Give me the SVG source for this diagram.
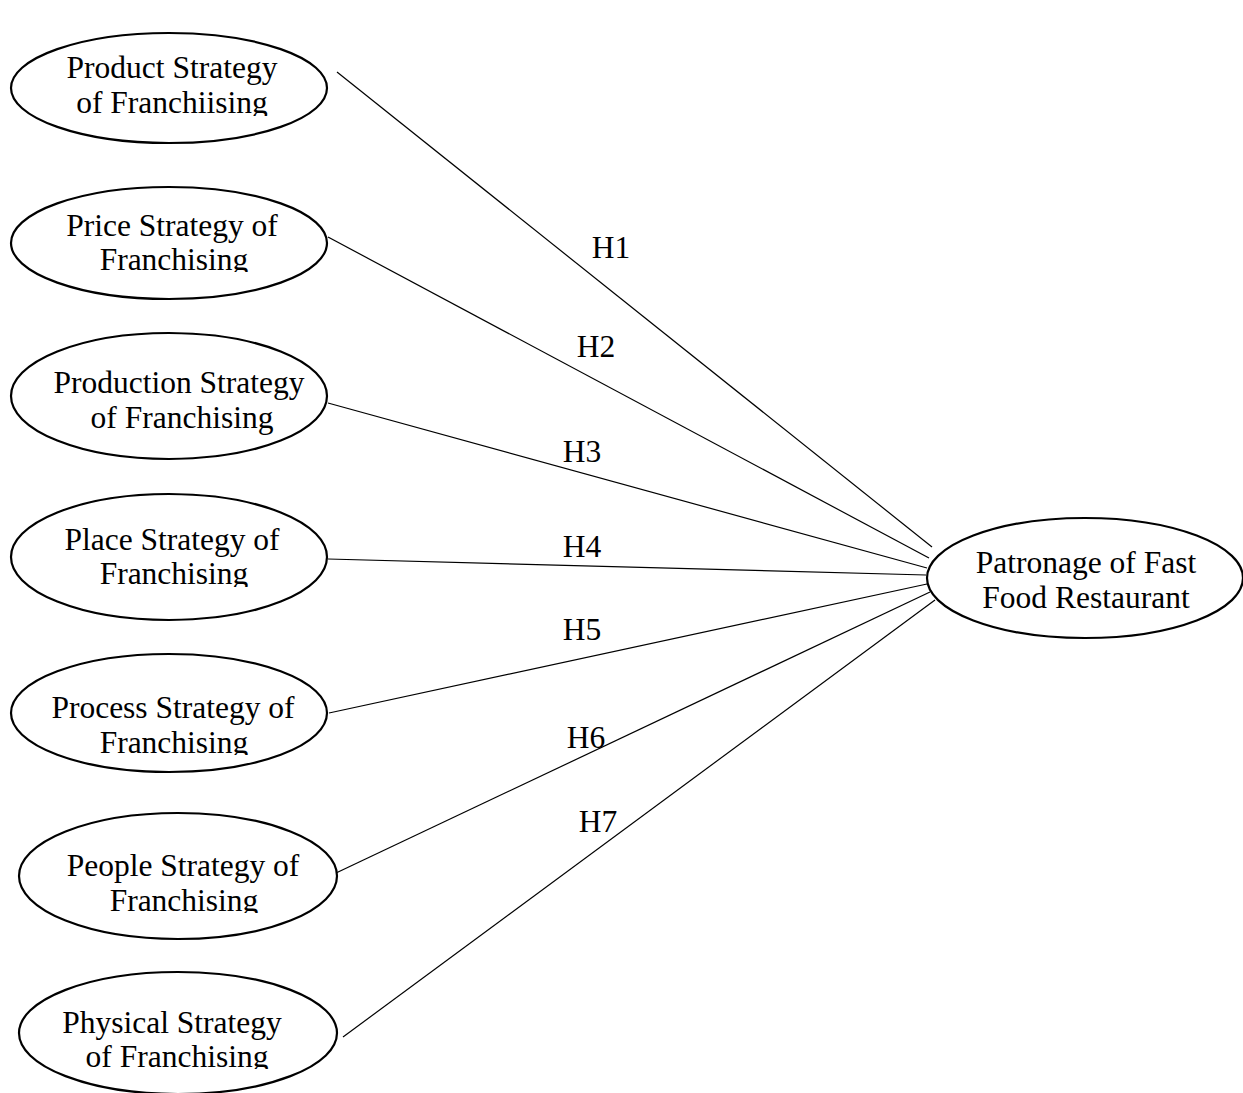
<svg xmlns="http://www.w3.org/2000/svg" width="1243" height="1093" viewBox="0 0 1243 1093">
<style>
.node ellipse{fill:#fff;stroke:#000;stroke-width:2.2}
text{font-family:"Liberation Serif","Times New Roman",serif;font-size:31.5px;fill:#000;text-anchor:middle}
.edges line{stroke:#000;stroke-width:1.2}
</style>
<defs>
<clipPath id="c1"><rect x="0" y="0" width="400" height="116"/></clipPath>
<clipPath id="c2"><rect x="0" y="150" width="400" height="122"/></clipPath>
<clipPath id="c4"><rect x="0" y="480" width="400" height="107"/></clipPath>
<clipPath id="c5"><rect x="0" y="640" width="400" height="115"/></clipPath>
<clipPath id="c6"><rect x="0" y="800" width="400" height="113"/></clipPath>
<clipPath id="c7"><rect x="0" y="960" width="400" height="109"/></clipPath>
</defs>
<rect width="1243" height="1093" fill="#fff"/>
<g class="edges">
<line x1="337" y1="72" x2="932" y2="547"/>
<line x1="328" y1="237" x2="929" y2="558"/>
<line x1="328" y1="403" x2="927" y2="568"/>
<line x1="328" y1="559" x2="926" y2="575"/>
<line x1="329" y1="713" x2="927" y2="584"/>
<line x1="336" y1="873" x2="930" y2="592"/>
<line x1="343" y1="1037" x2="935" y2="600"/>
</g>
<g id="n1" class="node"><ellipse cx="169" cy="88" rx="158" ry="55"/>
<g clip-path="url(#c1)"><text x="172" y="78">Product Strategy</text><text x="172" y="113">of Franchiising</text></g></g>
<g id="n2" class="node"><ellipse cx="169" cy="243" rx="158" ry="56"/>
<g clip-path="url(#c2)"><text x="172" y="236">Price Strategy of</text><text x="174" y="270">Franchising</text></g></g>
<g id="n3" class="node"><ellipse cx="169" cy="396" rx="158" ry="63"/>
<text x="179" y="393">Production Strategy</text><text x="182" y="428">of Franchising</text></g>
<g id="n4" class="node"><ellipse cx="169" cy="557" rx="158" ry="63"/>
<g clip-path="url(#c4)"><text x="172" y="550">Place Strategy of</text><text x="174" y="584">Franchising</text></g></g>
<g id="n5" class="node"><ellipse cx="169" cy="713" rx="158" ry="59"/>
<g clip-path="url(#c5)"><text x="173" y="718">Process Strategy of</text><text x="174" y="753">Franchising</text></g></g>
<g id="n6" class="node"><ellipse cx="178" cy="876" rx="159" ry="63"/>
<g clip-path="url(#c6)"><text x="183" y="876">People Strategy of</text><text x="184" y="911">Franchising</text></g></g>
<g id="n7" class="node"><ellipse cx="178" cy="1033" rx="159" ry="61"/>
<g clip-path="url(#c7)"><text x="172" y="1033">Physical Strategy</text><text x="177" y="1067">of Franchising</text></g></g>
<g id="n8" class="node"><ellipse cx="1085" cy="578" rx="158" ry="60"/>
<text x="1086" y="573">Patronage of Fast</text><text x="1086" y="608">Food Restaurant</text></g>
<g id="labels">
<text x="611" y="258">H1</text>
<text x="596" y="357">H2</text>
<text x="582" y="462">H3</text>
<text x="582" y="557">H4</text>
<text x="582" y="640">H5</text>
<text x="586" y="748">H6</text>
<text x="598" y="832">H7</text>
</g>
</svg>
